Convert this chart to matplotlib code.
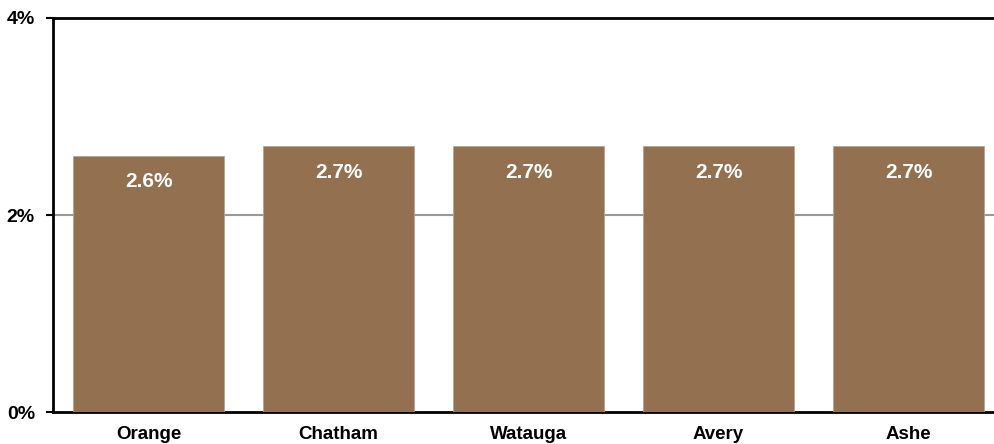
import matplotlib.pyplot as plt

counties = ['Orange', 'Chatham', 'Watauga', 'Avery', 'Ashe']
rates = [2.6, 2.7, 2.7, 2.7, 2.7]
yticks = [0, 2, 4]

plt.rcParams['font.family'] = ['Liberation Sans', 'DejaVu Sans']

fig = plt.figure(figsize=(9.95, 4.44), dpi=100)
ax = fig.add_axes([0.0533, 0.072, 0.9467, 0.8875])

bars = ax.bar(range(len(counties)), rates, width=0.795, color='#927050',
              edgecolor='#b8a48c', linewidth=0.6, zorder=3)

# valeurs dans les barres
for b, v in zip(bars, rates):
    ax.annotate('{:.1f}%'.format(v), xy=(b.get_x() + b.get_width() / 2, v),
                xytext=(0, -26), textcoords='offset pixels',
                ha='center', va='center', color='white', fontsize=15,
                fontweight='bold', zorder=4)

ax.set_ylim(0, 4)
ax.set_xlim(-0.503, 4.455)
ax.set_yticks(yticks)
ax.set_yticklabels(['{}%'.format(t) for t in yticks], fontsize=14, fontweight='bold')
ax.set_xticks(range(len(counties)))
ax.set_xticklabels(counties, fontsize=13.5, fontweight='bold')
ax.tick_params(axis='x', length=0, pad=10)
ax.tick_params(axis='y', length=5, width=1.5, pad=8)

ax.axhline(2, color='#999999', lw=1.5, zorder=1)
ax.axhline(4, color='black', lw=2, zorder=5, clip_on=False)

for s in ['right', 'top']:
    ax.spines[s].set_visible(False)
ax.spines['left'].set_linewidth(2)
ax.spines['bottom'].set_linewidth(2)

fig.savefig('out.png', dpi=100)
